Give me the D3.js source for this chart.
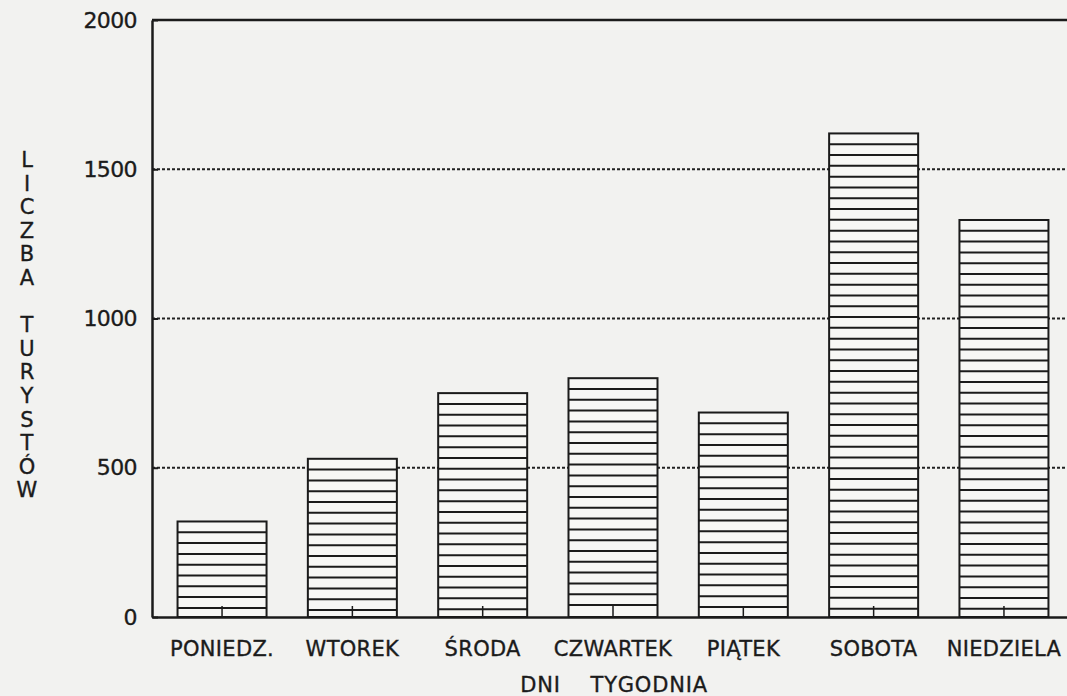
<!DOCTYPE html>
<html>
<head>
<meta charset="utf-8">
<script src="https://cdn.jsdelivr.net/npm/d3@7"></script>
<style>
  body { margin: 0; background: #f2f2f0; }
  text { font-family: "DejaVu Sans", sans-serif; fill: #1b1b1b; stroke: #1b1b1b; stroke-width: 0.35px; }
</style>
</head>
<body>
<div id="vis-container"></div>
<script>
// data
var days = ["PONIEDZ.", "WTOREK", "ŚRODA", "CZWARTEK", "PIĄTEK", "SOBOTA", "NIEDZIELA"];
var tourists = [320, 530, 750, 800, 685, 1620, 1330];
var yTicks = [0, 500, 1000, 1500, 2000];
var gridValues = [500, 1000, 1500];
var yTitle = "LICZBA TURYSTÓW";
var xTitle = "DNI    TYGODNIA";

var width = 1067, height = 696;
var margins = { top: 20, right: -7, bottom: 79, left: 152 };
var visWidth = width - margins.left - margins.right;
var visHeight = height - margins.top - margins.bottom;

var svg = d3.select("#vis-container").append("svg")
    .attr("width", width).attr("height", height);

svg.append("rect").attr("width", width).attr("height", height).attr("fill", "#f2f2f0");

var viewport = svg.append("g")
    .attr("transform", "translate(" + margins.left + "," + margins.top + ")");

var xScale = d3.scaleBand().domain(days).range([0, visWidth])
    .paddingInner(0.317).paddingOuter(0.196);
var yScale = d3.scaleLinear().domain([0, 2000]).range([visHeight, 0]);

// dotted grid lines
viewport.append("g").selectAll("line")
    .data(gridValues).enter().append("line")
    .attr("x1", 0).attr("x2", visWidth)
    .attr("y1", d => yScale(d)).attr("y2", d => yScale(d))
    .attr("stroke", "#222").attr("stroke-width", 2)
    .attr("stroke-dasharray", "3,2");

// bars with horizontal hatching
var hatchGap = 10.8;
var bars = viewport.append("g").selectAll("g")
    .data(days.map((d, i) => ({ day: d, value: tourists[i] })))
    .enter().append("g");

bars.append("rect")
    .attr("x", d => xScale(d.day))
    .attr("y", d => yScale(d.value))
    .attr("width", xScale.bandwidth())
    .attr("height", d => visHeight - yScale(d.value))
    .attr("fill", "#f7f7f5")
    .attr("stroke", "#1b1b1b").attr("stroke-width", 2);

bars.each(function(d) {
    var top = yScale(d.value);
    var ys = d3.range(top + hatchGap, visHeight - 4, hatchGap);
    d3.select(this).selectAll("line.hatch").data(ys).enter().append("line")
        .attr("class", "hatch")
        .attr("x1", xScale(d.day)).attr("x2", xScale(d.day) + xScale.bandwidth())
        .attr("y1", y => y).attr("y2", y => y)
        .attr("stroke", "#1b1b1b").attr("stroke-width", 2);
});

// frame (top) + axes
viewport.append("line")
    .attr("x1", 0).attr("x2", visWidth).attr("y1", 0).attr("y2", 0)
    .attr("stroke", "#1b1b1b").attr("stroke-width", 2.5);

var yAxis = viewport.append("g")
    .call(d3.axisLeft(yScale).tickValues(yTicks).tickFormat(d3.format("d"))
        .tickSizeInner(-6).tickSizeOuter(0).tickPadding(15));
yAxis.select(".domain").attr("stroke", "#1b1b1b").attr("stroke-width", 2.5);
yAxis.selectAll(".tick line").attr("stroke", "#1b1b1b").attr("stroke-width", 2);
yAxis.selectAll(".tick text")
    .attr("font-size", 22).attr("letter-spacing", "-0.6")
    .attr("font-family", "DejaVu Sans").attr("fill", "#1b1b1b");

var xAxis = viewport.append("g")
    .attr("transform", "translate(0," + visHeight + ")")
    .call(d3.axisBottom(xScale).tickSizeInner(-11).tickSizeOuter(0).tickPadding(24));
xAxis.select(".domain").attr("stroke", "#1b1b1b").attr("stroke-width", 2.5);
xAxis.selectAll(".tick line").attr("stroke", "#1b1b1b").attr("stroke-width", 1.5);
xAxis.selectAll(".tick text")
    .attr("font-size", 21).attr("letter-spacing", "0.3")
    .attr("font-family", "DejaVu Sans").attr("fill", "#1b1b1b");

// x axis title
svg.append("text")
    .attr("x", 614).attr("y", 692)
    .attr("text-anchor", "middle")
    .attr("font-size", 21)
    .attr("letter-spacing", "0.8")
    .style("white-space", "pre")
    .text(xTitle);

// y axis title, one letter per row
svg.append("g").selectAll("text")
    .data(yTitle.split(""))
    .enter().append("text")
    .attr("x", 27)
    .attr("y", (d, i) => 167 + i * 23.6)
    .attr("text-anchor", "middle")
    .attr("font-size", 21)
    .text(d => d);
</script>
</body>
</html>
